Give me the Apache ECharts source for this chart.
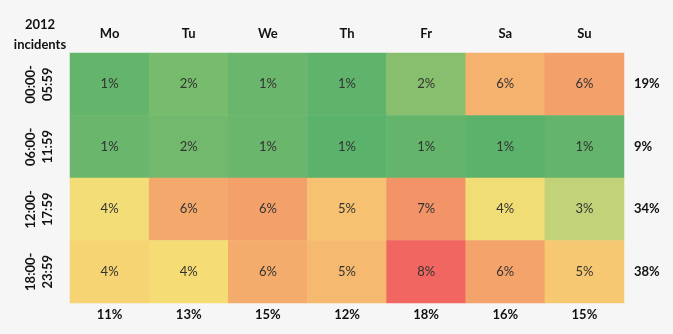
<!DOCTYPE html>
<html><head><meta charset="utf-8">
<script src="https://cdn.jsdelivr.net/npm/echarts@6/dist/echarts.min.js"></script>
<style>html,body{margin:0;padding:0;background:#f6f6f6}#c{width:673px;height:334px}</style>
</head><body><div id="c"></div>
<script>
const days = ['Mo','Tu','We','Th','Fr','Sa','Su'];
const slots = ['00:00-\n05:59','06:00-\n11:59','12:00-\n17:59','18:00-\n23:59'];
// estimated underlying shares (%) per time slot, Mo..Su
const s0000 = [1.2,1.6,1.3,1.1,1.9,5.6,6.2];
const s0600 = [1.3,1.5,1.3,1.0,1.2,0.9,1.2];
const s1200 = [3.8,5.9,6.2,5.0,6.6,3.7,3.0];
const s1800 = [4.4,4.1,5.8,5.3,7.8,6.1,4.8];
const rowTotals = ['19%','9%','34%','38%'];
const colTotals = ['11%','13%','15%','12%','18%','16%','15%'];

const rows = [s0000,s0600,s1200,s1800];
const data = [];
rows.forEach((r,yi)=>r.forEach((v,xi)=>data.push([xi,yi,v])));

const FONT = 'Lato';
const chart = echarts.init(document.getElementById('c'));
chart.setOption({
  backgroundColor:'#f6f6f6',
  animation:false,
  title:{text:'2012\nincidents',left:35,top:10,textAlign:'center',
    textStyle:{fontFamily:FONT,fontSize:13,fontWeight:'bold',color:'#111',lineHeight:20}},
  grid:{left:70,right:49,top:53,bottom:31},
  xAxis:[
    {type:'category',data:days,position:'top',axisLine:{show:false},axisTick:{show:false},splitLine:{show:false},
     axisLabel:{fontFamily:FONT,fontSize:13,fontWeight:'bold',color:'#111',margin:13}},
    {type:'category',data:colTotals,position:'bottom',axisLine:{show:false},axisTick:{show:false},
     axisLabel:{fontFamily:FONT,fontSize:13,fontWeight:'bold',color:'#111',margin:5}}
  ],
  yAxis:[
    {type:'category',data:slots,inverse:true,position:'left',axisLine:{show:false},axisTick:{show:false},
     axisLabel:{fontFamily:FONT,fontSize:13,fontWeight:'bold',color:'#111',rotate:90,margin:14,lineHeight:17,align:'center'}},
    {type:'category',data:rowTotals,inverse:true,position:'right',axisLine:{show:false},axisTick:{show:false},
     axisLabel:{fontFamily:FONT,fontSize:13,fontWeight:'bold',color:'#111',margin:10}}
  ],
  visualMap:{show:false,min:1,max:8,dimension:2,
    inRange:{color:['#5bb26a','#72b96d','#8cc16f','#a7ca74','#c2d279','#eedc76','#f6de76','#f7d272',
                    '#f6c271','#f5b46e','#f4a66c','#f39769','#f28866','#f17362','#f15e5e']}},
  series:[{type:'heatmap',data:data,xAxisIndex:0,yAxisIndex:0,
    itemStyle:{borderWidth:0},
    label:{show:true,fontFamily:FONT,fontSize:13,color:'#333',formatter:p=>Math.round(p.value[2])+'%'}}]
});
</script></body></html>
